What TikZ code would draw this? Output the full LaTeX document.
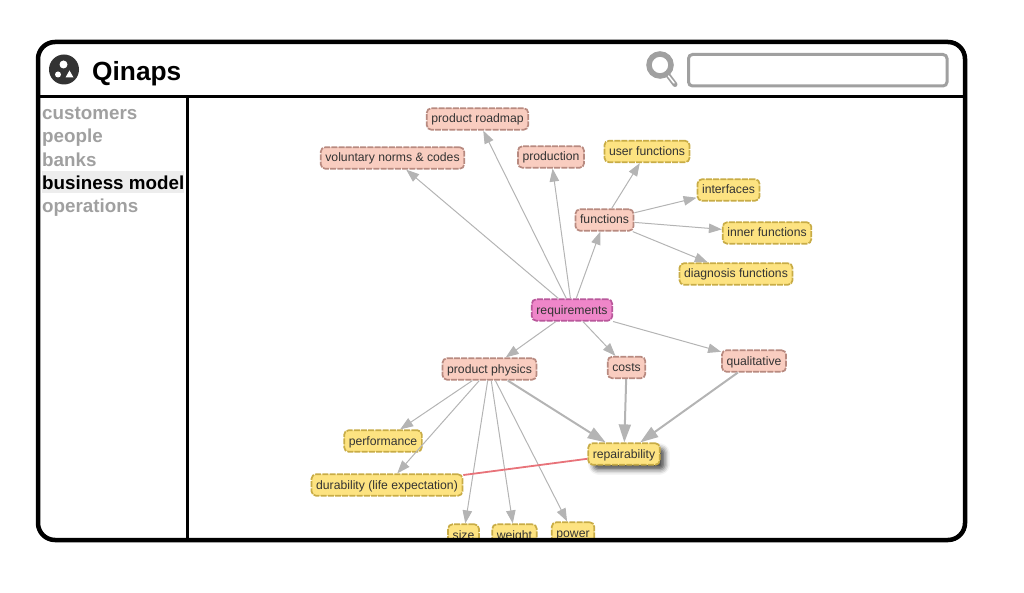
\documentclass[tikz,border=0pt]{standalone}
\usepackage{fontspec}
\setmainfont{Liberation Sans}
\usetikzlibrary{arrows.meta,shadows.blur}
\definecolor{pinkfill}{HTML}{EF86C9}
\definecolor{pinkedge}{HTML}{B9589B}
\definecolor{rosefill}{HTML}{F9CDC0}
\definecolor{roseedge}{HTML}{B88A80}
\definecolor{sunfill}{HTML}{FDE381}
\definecolor{sunedge}{HTML}{C8AC46}
\definecolor{linkgray}{HTML}{B4B4B4}
\definecolor{menugray}{HTML}{A0A0A0}
\definecolor{conflictred}{HTML}{E8737A}
\tikzset{
    concept/.style={rounded corners=4.5pt, line width=1.7pt, dash pattern=on 6pt off 1.2pt,
        minimum height=21.5pt, inner xsep=4.6pt, inner ysep=0pt, text height=10pt, text depth=2pt,
        font=\fontsize{12.2}{14}\selectfont, text=black!80},
    rootnode/.style={concept, fill=pinkfill, draw=pinkedge},
    rosenode/.style={concept, fill=rosefill, draw=roseedge},
    sunnode/.style={concept, fill=sunfill, draw=sunedge},
    link/.style={draw=linkgray, line width=1pt, -{Triangle[length=13pt,width=9.5pt]}},
    heavylink/.style={draw=linkgray, line width=2pt, -{Triangle[length=18pt,width=12pt]}},
    menuitem/.style={anchor=base west, inner sep=0pt, font=\fontsize{18.8}{22}\bfseries\selectfont, text=menugray}
}

\begin{document}
\begin{tikzpicture}[x=1pt,y=-1pt]
    \useasboundingbox (0,0) rectangle (1024,593);

    \begin{scope}
        \clip (38,98) rectangle (965,538);
        \node [rootnode] (requirements) at (572,310) {requirements};
        \node [rosenode] (roadmap) at (477.5,119) {product roadmap};
        \node [rosenode] (norms) at (392.5,158) {voluntary norms \& codes};
        \node [rosenode] (production) at (551,157) {production};
        \node [rosenode] (functions) at (604.5,220) {functions};
        \node [rosenode] (physics) at (489.5,369) {product physics};
        \node [rosenode] (costs) at (626.5,367.5) {costs};
        \node [rosenode] (qualitative) at (754,361) {qualitative};
        \node [sunnode] (userfn) at (647,151.5) {user functions};
        \node [sunnode] (interfaces) at (728.5,190) {interfaces};
        \node [sunnode] (innerfn) at (767,233) {inner functions};
        \node [sunnode] (diagnosis) at (736,274) {diagnosis functions};
        \node [sunnode] (performance) at (383,441) {performance};
        \node [sunnode] (durability) at (387,485) {durability (life expectation)};
        \node [sunnode, blur shadow={shadow xshift=5pt, shadow yshift=-5pt, shadow blur radius=5pt, shadow opacity=70}] (repair) at (624,454) {repairability};
        \node [sunnode] (size) at (463.5,535) {size};
        \node [sunnode] (weight) at (514.5,535) {weight};
        \node [sunnode] (power) at (573,533) {power};

        \draw [link] (requirements) -- (roadmap);
        \draw [link] (requirements) -- (norms);
        \draw [link] (requirements) -- (production);
        \draw [link] (requirements) -- (functions);
        \draw [link] (requirements) -- (physics);
        \draw [link] (requirements) -- (costs);
        \draw [link] (requirements) -- (qualitative);
        \draw [link] (functions) -- (userfn);
        \draw [link] (functions) -- (interfaces);
        \draw [link] (functions) -- (innerfn);
        \draw [link] (functions) -- (diagnosis);
        \draw [link] (physics) -- (performance);
        \draw [link] (physics) -- (durability);
        \draw [link] (physics) -- (size);
        \draw [link] (physics) -- (weight);
        \draw [link] (physics) -- (power);
        \draw [heavylink] (physics) -- (repair);
        \draw [heavylink] (costs) -- (repair);
        \draw [heavylink] (qualitative) -- (repair);
        \draw [draw=conflictred, line width=1.8pt] (repair) -- (durability);
    \end{scope}

    % window
    \draw [line width=4.5pt, rounded corners=17pt] (38,42) rectangle (965,540);
    \draw [line width=3pt] (38,97) -- (965,97);
    \draw [line width=3pt] (187.5,97) -- (187.5,540);

    % logo
    \fill [black!80] (64,69.5) circle (15);
    \fill [white] (63.5,64.5) circle (4);
    \fill [white] (58,74.5) circle (3);
    \fill [white] (69.5,70.5) -- (73.5,77.5) -- (65.5,77.5) -- cycle;
    \node [anchor=base west, inner sep=0pt, font=\fontsize{26.3}{30}\bfseries\selectfont] (title) at (92,80.5) {Qinaps};

    % search
    \draw [menugray, line width=5.5pt] (660,65) circle (11);
    \draw [menugray, line width=5pt, line cap=round] (667.5,74.5) -- (675,84.5);
    \draw [white, line width=1.5pt, line cap=round] (668.5,76) -- (674,83);
    \draw [menugray, line width=3pt, rounded corners=4pt] (688.5,54.5) rectangle (947,86);

    % menu
    \fill [black!7] (42,171) rectangle (184,193.5);
    \node [menuitem] (customers) at (42,120) {customers};
    \node [menuitem] (people) at (42,143) {people};
    \node [menuitem] (banks) at (42,166.5) {banks};
    \node [menuitem, text=black] (business) at (42,190) {business model};
    \node [menuitem] (operations) at (42,213) {operations};
\end{tikzpicture}
\end{document}
